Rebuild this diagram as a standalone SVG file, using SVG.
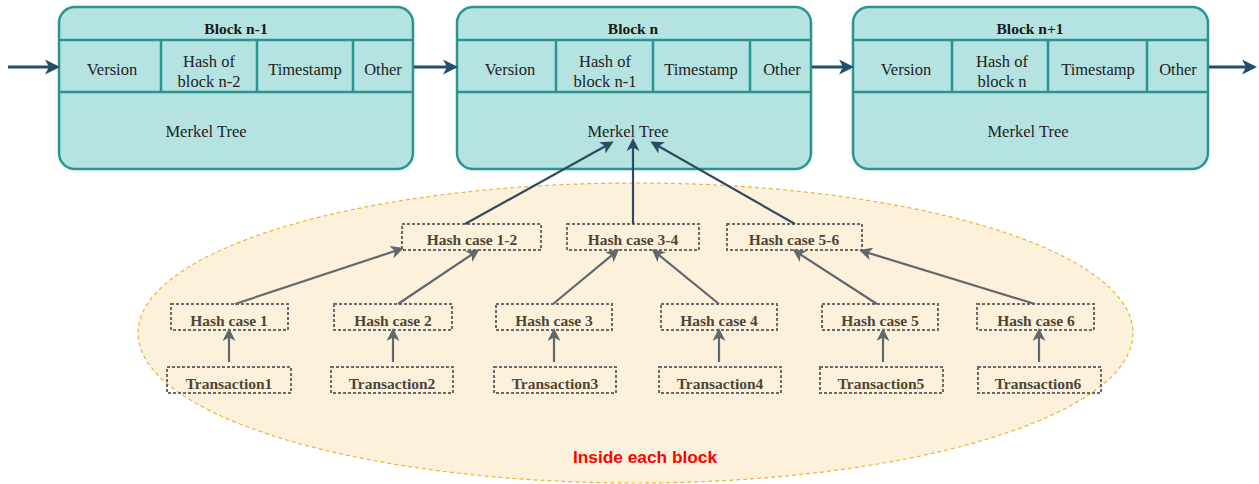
<svg xmlns="http://www.w3.org/2000/svg" width="1259" height="484" viewBox="0 0 1259 484">
<style>
.blk{fill:#b5e3e1;stroke:#2a9590;stroke-width:2.5}
.div{stroke:#2a9590;stroke-width:2.5;fill:none}
.ttl{font-family:"Liberation Serif","Times New Roman",serif;font-weight:bold;font-size:15.5px;fill:#1a1a1a;text-anchor:middle}
.fld{font-family:"Liberation Serif","Times New Roman",serif;font-size:16.5px;fill:#222;text-anchor:middle}
.box{fill:none;stroke:#6b6b6b;stroke-width:2;stroke-dasharray:3 2}
.bt{font-family:"Liberation Serif","Times New Roman",serif;font-weight:bold;font-size:15.5px;fill:#4f4535;text-anchor:middle}
.chain{stroke:#1f4e6e;stroke-width:3;fill:none}
.ga{stroke:#5f686c;stroke-width:2.2;fill:none}
.ba{stroke:#2e4a62;stroke-width:2.2;fill:none}
</style>
<defs>
<marker id="mc" markerWidth="15" markerHeight="15" refX="12" refY="7.5" orient="auto" markerUnits="userSpaceOnUse" viewBox="0 0 15 15"><path d="M0,0 L15,7.5 L0,15 L4,7.5 Z" fill="#1f4e6e"/></marker>
<marker id="mg" markerWidth="13" markerHeight="13" refX="10" refY="6.5" orient="auto" markerUnits="userSpaceOnUse" viewBox="0 0 13 13"><path d="M0,0 L13,6.5 L0,13 L3.5,6.5 Z" fill="#5f686c"/></marker>
<marker id="mb" markerWidth="13" markerHeight="13" refX="10" refY="6.5" orient="auto" markerUnits="userSpaceOnUse" viewBox="0 0 13 13"><path d="M0,0 L13,6.5 L0,13 L3.5,6.5 Z" fill="#2e4a62"/></marker>
</defs>

<ellipse cx="635.5" cy="333" rx="497.5" ry="150" fill="#fdf1dc" stroke="#f0b13c" stroke-width="1.2" stroke-dasharray="4 3"/>
<text x="645" y="463" font-family="Liberation Sans, Arial, sans-serif" font-weight="bold" font-size="17.3" fill="#ff0000" text-anchor="middle">Inside each block</text>

<g id="block-n-1">
<rect class="blk" x="59" y="7" width="354" height="162" rx="16"/>
<path class="div" d="M59,40 H413 M59,92 H413 M161,40 V92 M257,40 V92 M353,40 V92"/>
<text class="ttl" x="236" y="34">Block n-1</text>
<text class="fld" x="112" y="75">Version</text>
<text class="fld" x="209" y="67">Hash of</text>
<text class="fld" x="209" y="87">block n-2</text>
<text class="fld" x="305" y="75">Timestamp</text>
<text class="fld" x="383" y="75">Other</text>
<text class="fld" x="206" y="137">Merkel Tree</text>
</g>

<g id="block-n">
<rect class="blk" x="457" y="7" width="354" height="162" rx="16"/>
<path class="div" d="M457,40 H811 M457,92 H811 M556,40 V92 M653,40 V92 M750,40 V92"/>
<text class="ttl" x="633" y="34">Block n</text>
<text class="fld" x="510" y="75">Version</text>
<text class="fld" x="605" y="67">Hash of</text>
<text class="fld" x="605" y="87">block n-1</text>
<text class="fld" x="701" y="75">Timestamp</text>
<text class="fld" x="782" y="75">Other</text>
<text class="fld" x="628" y="137">Merkel Tree</text>
</g>

<g id="block-n+1">
<rect class="blk" x="853" y="7" width="355" height="162" rx="16"/>
<path class="div" d="M853,40 H1208 M853,92 H1208 M952,40 V92 M1048,40 V92 M1147,40 V92"/>
<text class="ttl" x="1030" y="34">Block n+1</text>
<text class="fld" x="906" y="75">Version</text>
<text class="fld" x="1002" y="67">Hash of</text>
<text class="fld" x="1002" y="87">block n</text>
<text class="fld" x="1098" y="75">Timestamp</text>
<text class="fld" x="1178" y="75">Other</text>
<text class="fld" x="1028" y="137">Merkel Tree</text>
</g>

<g id="hash-12"><rect class="box" x="402" y="224" width="139" height="26"/><text class="bt" x="472" y="245">Hash case 1-2</text></g>
<g id="hash-34"><rect class="box" x="567" y="224" width="132" height="26"/><text class="bt" x="633" y="245">Hash case 3-4</text></g>
<g id="hash-56"><rect class="box" x="727" y="224" width="135" height="26"/><text class="bt" x="794" y="245">Hash case 5-6</text></g>

<g id="hash-1"><rect class="box" x="171" y="304" width="117" height="26"/><text class="bt" x="229" y="326">Hash case 1</text></g>
<g id="hash-2"><rect class="box" x="334" y="304" width="118" height="26"/><text class="bt" x="393" y="326">Hash case 2</text></g>
<g id="hash-3"><rect class="box" x="496" y="304" width="116" height="26"/><text class="bt" x="554" y="326">Hash case 3</text></g>
<g id="hash-4"><rect class="box" x="661" y="304" width="116" height="26"/><text class="bt" x="719" y="326">Hash case 4</text></g>
<g id="hash-5"><rect class="box" x="822" y="304" width="116" height="26"/><text class="bt" x="880" y="326">Hash case 5</text></g>
<g id="hash-6"><rect class="box" x="977" y="304" width="117" height="26"/><text class="bt" x="1036" y="326">Hash case 6</text></g>

<g id="tx-1"><rect class="box" x="167" y="367" width="124" height="26"/><text class="bt" x="229" y="389">Transaction1</text></g>
<g id="tx-2"><rect class="box" x="331" y="367" width="122" height="26"/><text class="bt" x="392" y="389">Transaction2</text></g>
<g id="tx-3"><rect class="box" x="494" y="367" width="122" height="26"/><text class="bt" x="555" y="389">Transaction3</text></g>
<g id="tx-4"><rect class="box" x="659" y="367" width="122" height="26"/><text class="bt" x="720" y="389">Transaction4</text></g>
<g id="tx-5"><rect class="box" x="820" y="367" width="123" height="26"/><text class="bt" x="881" y="389">Transaction5</text></g>
<g id="tx-6"><rect class="box" x="978" y="367" width="123" height="26"/><text class="bt" x="1038" y="389">Transaction6</text></g>

<g id="connectors">
<path class="chain" d="M8,67 H57" marker-end="url(#mc)"/>
<path class="chain" d="M414,67 H455" marker-end="url(#mc)"/>
<path class="chain" d="M812,67 H851" marker-end="url(#mc)"/>
<path class="chain" d="M1209,67 H1254" marker-end="url(#mc)"/>

<path class="ba" d="M465,224 L611,143" marker-end="url(#mb)"/>
<path class="ba" d="M633,224 L633,141" marker-end="url(#mb)"/>
<path class="ba" d="M795,224 L653,143" marker-end="url(#mb)"/>

<path class="ga" d="M235,304 L401,249" marker-end="url(#mg)"/>
<path class="ga" d="M398,304 L477,251" marker-end="url(#mg)"/>
<path class="ga" d="M553,304 L617,251" marker-end="url(#mg)"/>
<path class="ga" d="M719,304 L654,251" marker-end="url(#mg)"/>
<path class="ga" d="M877,304 L795,251" marker-end="url(#mg)"/>
<path class="ga" d="M1035,304 L862,251" marker-end="url(#mg)"/>

<path class="ga" d="M229,362 V331" marker-end="url(#mg)"/>
<path class="ga" d="M393,362 V331" marker-end="url(#mg)"/>
<path class="ga" d="M554,362 V331" marker-end="url(#mg)"/>
<path class="ga" d="M719,362 V331" marker-end="url(#mg)"/>
<path class="ga" d="M883,362 V331" marker-end="url(#mg)"/>
<path class="ga" d="M1039,362 V331" marker-end="url(#mg)"/>
</g>
</svg>
